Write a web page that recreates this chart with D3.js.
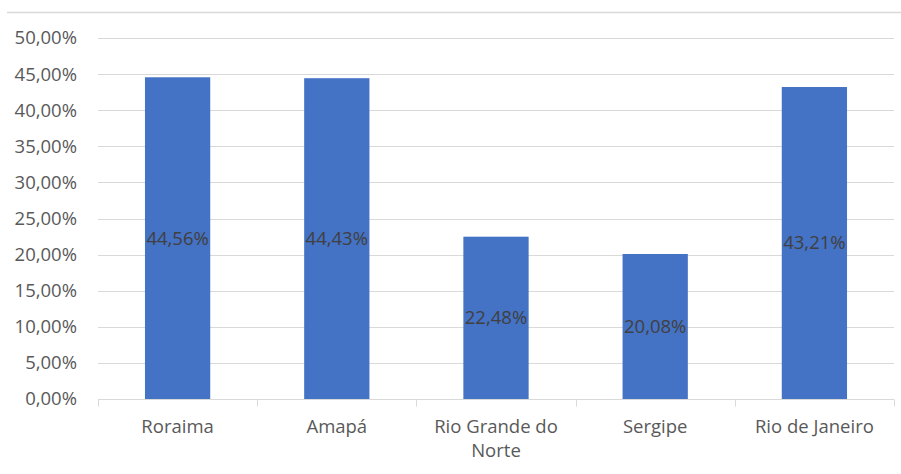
<!DOCTYPE html>
<html>
<head>
<meta charset="utf-8">
<script src="https://cdn.jsdelivr.net/npm/d3@7"></script>
<style>
  html, body { margin: 0; padding: 0; background: #fff; }
  svg { display: block; }
  text { font-family: "Open Sans", "Noto Sans", sans-serif; }
</style>
</head>
<body>
<svg id="chart" width="901" height="474"></svg>
<script>
// Share per state
const categories = ["Roraima", "Amapá", "Rio Grande do Norte", "Sergipe", "Rio de Janeiro"];
const values = [44.56, 44.43, 22.48, 20.08, 43.21];
const yTicks = [0, 5, 10, 15, 20, 25, 30, 35, 40, 45, 50];

const W = 901, H = 474;
const margin = { top: 38, right: 7, bottom: 75, left: 98 };
const svg = d3.select("#chart");
const FS = "18.5px";

const fmt = v => v.toFixed(2).replace(".", ",") + "%";

// chart frame top edge
svg.append("line")
  .attr("x1", 7).attr("x2", W).attr("y1", 12.5).attr("y2", 12.5)
  .attr("stroke", "#d9d9d9").attr("stroke-width", 1.5);

const x = d3.scaleBand()
  .domain(categories)
  .range([margin.left, W - margin.right])
  .paddingInner(0.59)
  .paddingOuter(0.295);

const xOuter = d3.scaleBand()
  .domain(categories)
  .range([margin.left, W - margin.right]);

const y = d3.scaleLinear()
  .domain([0, 50])
  .range([H - margin.bottom, margin.top]);

// gridlines
svg.append("g")
  .selectAll("line")
  .data(yTicks.filter(t => t > 0))
  .join("line")
  .attr("x1", margin.left).attr("x2", W - margin.right)
  .attr("y1", d => Math.round(y(d)) + 0.5).attr("y2", d => Math.round(y(d)) + 0.5)
  .attr("stroke", "#d9d9d9").attr("stroke-width", 1);

// y axis labels
const yAxis = d3.axisLeft(y).tickValues(yTicks).tickFormat(fmt).tickSize(0).tickPadding(21);
const gy = svg.append("g").attr("transform", `translate(${margin.left},0)`).call(yAxis);
gy.select(".domain").remove();
gy.selectAll("text").attr("fill", "#595959").style("font-size", FS);

// bars
svg.append("g")
  .selectAll("rect")
  .data(values)
  .join("rect")
  .attr("x", (d, i) => x(categories[i]))
  .attr("width", x.bandwidth())
  .attr("y", d => y(d))
  .attr("height", d => y(0) - y(d))
  .attr("fill", "#4472c4");

// x axis baseline and ticks between categories
const base = Math.round(y(0)) + 0.5;
svg.append("line")
  .attr("x1", margin.left).attr("x2", W - margin.right)
  .attr("y1", base).attr("y2", base)
  .attr("stroke", "#d9d9d9").attr("stroke-width", 1);
const tickXs = categories.map(c => xOuter(c)).concat([W - margin.right]);
svg.append("g")
  .selectAll("line")
  .data(tickXs)
  .join("line")
  .attr("x1", d => Math.round(d) + 0.5).attr("x2", d => Math.round(d) + 0.5)
  .attr("y1", base).attr("y2", base + 7)
  .attr("stroke", "#d9d9d9").attr("stroke-width", 1);

// category labels (wrapped)
const lines = c => c === "Rio Grande do Norte" ? ["Rio Grande do", "Norte"] : [c];
const xl = svg.append("g");
categories.forEach(c => {
  const t = xl.append("text")
    .attr("x", xOuter(c) + xOuter.bandwidth() / 2)
    .attr("y", base + 33)
    .attr("text-anchor", "middle")
    .attr("fill", "#595959")
    .style("font-size", FS);
  lines(c).forEach((l, k) => {
    t.append("tspan").attr("x", xOuter(c) + xOuter.bandwidth() / 2)
      .attr("dy", k === 0 ? 0 : 24).text(l);
  });
});

// value labels centred in bars
svg.append("g")
  .selectAll("text")
  .data(values)
  .join("text")
  .attr("x", (d, i) => x(categories[i]) + x.bandwidth() / 2)
  .attr("y", d => (y(d) + y(0)) / 2)
  .attr("dy", "0.35em")
  .attr("text-anchor", "middle")
  .attr("fill", "#404040")
  .style("font-size", FS)
  .text(fmt);
</script>
</body>
</html>
